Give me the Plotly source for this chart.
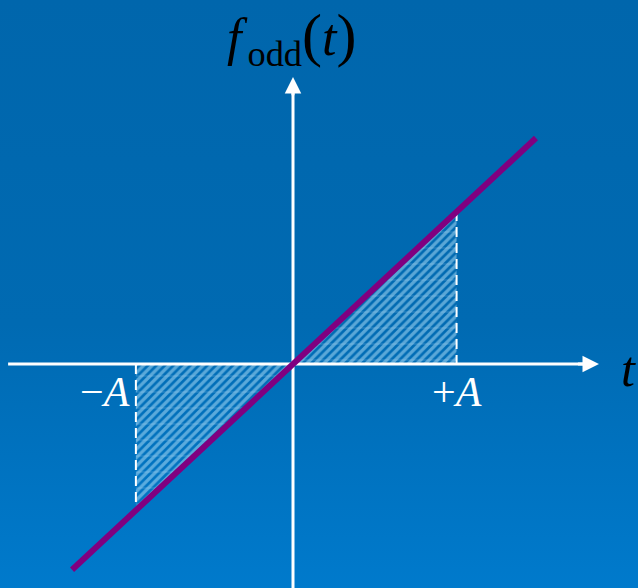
import plotly.graph_objects as go

# ---- data (units: A = 1) ----
neg_A = -0.97                   # position of -A
pos_A = 1.01                    # position of +A
line_t = [-1.364, 1.5]          # ends of the drawn line f_odd(t)
line_f = [-1.27, 1.395]
f_at_negA = -0.90               # f_odd(-A)
f_at_posA = 0.944               # f_odd(+A)
label_neg = "−<i>A</i>"
label_pos = "+<i>A</i>"

# view window (data units)
x_range = [-1.809, 2.130]
y_range = [-1.383, 2.247]

fig = go.Figure()

# background gradient
fig.add_trace(go.Scatter(
    x=[x_range[0], x_range[1], x_range[1], x_range[0], x_range[0]],
    y=[y_range[0], y_range[0], y_range[1], y_range[1], y_range[0]],
    mode="lines", line=dict(width=0), fill="toself",
    fillgradient=dict(type="vertical",
                      colorscale=[[0, "rgb(0,122,204)"], [0.45, "rgb(0,106,178)"], [1, "rgb(0,102,172)"]]),
    hoverinfo="skip", showlegend=False))

# hatched triangles
tri_x = [[neg_A, 0, neg_A, neg_A], [0, pos_A, pos_A, 0]]
tri_y = [[0, 0, f_at_negA, 0], [0, f_at_posA, 0, 0]]
for tx, ty in zip(tri_x, tri_y):
    fig.add_trace(go.Scatter(
        x=tx, y=ty, mode="lines", line=dict(width=0), fill="toself",
        fillcolor="rgba(0,0,0,0)",
        fillpattern=dict(shape="/", fgcolor="rgba(180,228,252,1)", bgcolor="rgba(0,0,0,0)",
                         size=6, solidity=0.55),
        hoverinfo="skip", showlegend=False))
    fig.add_trace(go.Scatter(
        x=tx, y=ty, mode="lines", line=dict(width=0), fill="toself",
        fillcolor="rgba(0,0,0,0)",
        fillpattern=dict(shape="-", fgcolor="rgba(190,225,250,0.4)", bgcolor="rgba(0,0,0,0)",
                         size=16, solidity=0.08),
        hoverinfo="skip", showlegend=False))

# dashed verticals
fig.add_trace(go.Scatter(x=[neg_A, neg_A], y=[0, f_at_negA], mode="lines",
                         line=dict(color="white", width=2, dash="10px,6px"),
                         hoverinfo="skip", showlegend=False))
fig.add_trace(go.Scatter(x=[pos_A, pos_A], y=[f_at_posA, 0], mode="lines",
                         line=dict(color="white", width=2, dash="10px,6px"),
                         hoverinfo="skip", showlegend=False))

# axes
fig.add_trace(go.Scatter(x=[-1.759, 1.80], y=[0, 0], mode="lines",
                         line=dict(color="white", width=3), hoverinfo="skip", showlegend=False))
fig.add_trace(go.Scatter(x=[0, 0], y=[y_range[0], 1.70], mode="lines",
                         line=dict(color="white", width=3), hoverinfo="skip", showlegend=False))

# the odd function line
fig.add_trace(go.Scatter(x=line_t, y=line_f, mode="lines",
                         line=dict(color="rgb(128,0,128)", width=6),
                         hoverinfo="skip", showlegend=False))

# arrow heads
fig.add_annotation(x=1.889, y=0, ax=1.75, ay=0, xref="x", yref="y", axref="x", ayref="y",
                   showarrow=True, arrowhead=2, arrowsize=1.1, arrowwidth=3,
                   arrowcolor="white", text="")
fig.add_annotation(x=0, y=1.772, ax=0, ay=1.65, xref="x", yref="y", axref="x", ayref="y",
                   showarrow=True, arrowhead=2, arrowsize=1.1, arrowwidth=3,
                   arrowcolor="white", text="")

serif = "Liberation Serif"
fig.add_annotation(x=neg_A, y=-0.173, xref="x", yref="y", text=label_neg, showarrow=False,
                   xanchor="right", yanchor="middle", xshift=-4,
                   font=dict(family=serif, size=42, color="white"))
fig.add_annotation(x=pos_A, y=-0.173, xref="x", yref="y", text=label_pos, showarrow=False,
                   xanchor="center", yanchor="middle",
                   font=dict(family=serif, size=42, color="white"))
fig.add_annotation(x=2.07, y=-0.03, xref="x", yref="y", text="<i>t</i>", showarrow=False,
                   xanchor="center", yanchor="middle",
                   font=dict(family=serif, size=50, color="black"))
fig.add_annotation(x=-0.01, y=2.01, xref="x", yref="y",
                   text="<i>f</i><span style='font-size:24px'> </span><sub>odd</sub><span style='font-size:60px'>(</span><i>t</i><span style='font-size:60px'>)</span>",
                   showarrow=False, xanchor="center", yanchor="middle",
                   font=dict(family=serif, size=52, color="black"))

fig.update_layout(
    width=638, height=588, margin=dict(l=0, r=0, t=0, b=0),
    paper_bgcolor="rgb(0,106,178)", plot_bgcolor="rgb(0,106,178)",
    xaxis=dict(range=x_range, visible=False, fixedrange=True),
    yaxis=dict(range=y_range, visible=False, fixedrange=True),
    showlegend=False,
)

fig.write_html("out.html", config={"displayModeBar": False},
               post_script="document.body.style.margin='0';document.body.style.padding='0';")
